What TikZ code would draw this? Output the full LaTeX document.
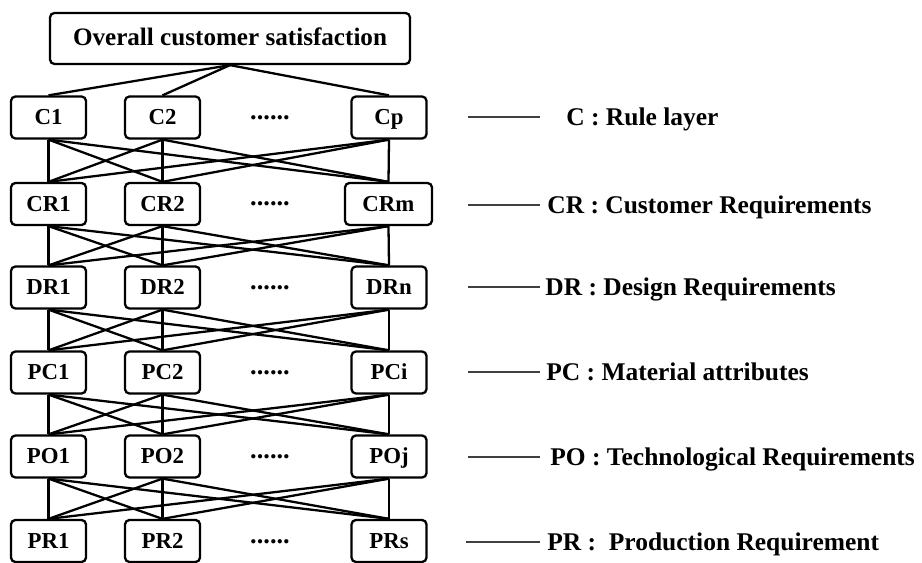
\documentclass[tikz,border=0pt]{standalone}
\usepackage{fontspec}
\setmainfont{Liberation Serif}

\begin{document}
\begin{tikzpicture}[x=0.02cm,y=-0.02cm,
    box/.style={draw,rounded corners=2.5pt,line width=1.3pt,minimum width=1.5cm,
      minimum height=0.84cm,inner xsep=2pt,text height=0.9em,text depth=0.1em,
      font=\fontsize{13}{15}\selectfont\bfseries},
    more/.style={anchor=base,inner sep=0pt,font=\fontsize{15}{17}\selectfont\bfseries},
    link/.style={line width=1.3pt},
    key/.style={line width=1.4pt,black!75},
    legend/.style={anchor=base west,inner sep=0pt,font=\fontsize{14.5}{17}\selectfont\bfseries}]
    \useasboundingbox (0,0) rectangle (922,563);
    % goal
    \node[box,minimum width=7.2cm,minimum height=1.02cm,font=\fontsize{14.3}{17}\selectfont\bfseries]
      (top) at (230,38.5) {Overall customer satisfaction};
    % layers, columns 1, 2 and last
    \node[box] (c1) at (48.5,117.5) {C1};
    \node[box] (c2) at (162.5,117.5) {C2};
    \node[box] (c3) at (389,117.5) {Cp};
    \node[box] (cr1) at (48.5,204) {CR1};
    \node[box] (cr2) at (162.5,204) {CR2};
    \node[box,minimum width=1.74cm] (cr3) at (388.5,204) {CRm};
    \node[box] (dr1) at (48.5,287.5) {DR1};
    \node[box] (dr2) at (162.5,287.5) {DR2};
    \node[box] (dr3) at (389,287.5) {DRn};
    \node[box] (pc1) at (48.5,372.5) {PC1};
    \node[box] (pc2) at (162.5,372.5) {PC2};
    \node[box] (pc3) at (389,372.5) {PCi};
    \node[box] (po1) at (48.5,456.5) {PO1};
    \node[box] (po2) at (162.5,456.5) {PO2};
    \node[box] (po3) at (389,456.5) {POj};
    \node[box] (pr1) at (48.5,541) {PR1};
    \node[box] (pr2) at (162.5,541) {PR2};
    \node[box] (pr3) at (389,541) {PRs};
    % dots between column 2 and last
    \node[more] (cdots) at (270,119.5) {......};
    \node[more] (crdots) at (270,206) {......};
    \node[more] (drdots) at (270,289.5) {......};
    \node[more] (pcdots) at (270,374.5) {......};
    \node[more] (podots) at (270,458.5) {......};
    \node[more] (prdots) at (270,543) {......};
    % links
    \foreach \j in {1,2,3}
      \draw[link] (top.south) -- (c\j.north);
    \foreach \u/\l in {c/cr,cr/dr,dr/pc,pc/po,po/pr}
      \foreach \i in {1,2,3}
        \foreach \j in {1,2,3}
          \draw[link] (\u\i.south) -- (\l\j.north);
    % legend
    \coordinate (kc-a) at (468,117); \coordinate (kc-b) at (540,117);
    \coordinate (kcr-a) at (468,205); \coordinate (kcr-b) at (540,205);
    \coordinate (kdr-a) at (468,287); \coordinate (kdr-b) at (540,287);
    \coordinate (kpc-a) at (468,372); \coordinate (kpc-b) at (540,372);
    \coordinate (kpo-a) at (468,457); \coordinate (kpo-b) at (540,457);
    \coordinate (kpr-a) at (466,542); \coordinate (kpr-b) at (540,542);
    \draw[key] (kc-a) -- (kc-b);
    \draw[key] (kcr-a) -- (kcr-b);
    \draw[key] (kdr-a) -- (kdr-b);
    \draw[key] (kpc-a) -- (kpc-b);
    \draw[key] (kpo-a) -- (kpo-b);
    \draw[key] (kpr-a) -- (kpr-b);
    \node[legend] (lc) at (566,125.5) {C : Rule layer};
    \node[legend] (lcr) at (547,213.5) {CR : Customer Requirements};
    \node[legend] (ldr) at (545,295.5) {DR : Design Requirements};
    \node[legend] (lpc) at (546,380.5) {PC : Material attributes};
    \node[legend] (lpo) at (550,465.5) {PO : Technological Requirements};
    \node[legend] (lpr) at (547,550.5) {PR :~ Production Requirement};
\end{tikzpicture}
\end{document}
